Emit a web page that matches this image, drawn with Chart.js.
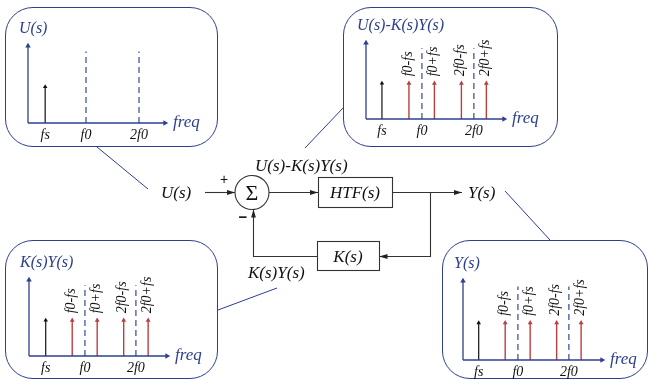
<!DOCTYPE html>
<html>
<head>
<meta charset="utf-8">
<script src="https://cdn.jsdelivr.net/npm/chart.js@4.4.1/dist/chart.umd.min.js"></script>
<style>
  html, body { margin: 0; padding: 0; background: #fff; }
  #stage { position: relative; width: 650px; height: 381px; overflow: hidden; }
  .box { position: absolute; box-sizing: border-box; border: 1.3px solid #2d3f8e; border-radius: 28px; }
  .plot { position: absolute; }
  svg { position: absolute; left: 0; top: 0; }
  svg text { font-family: 'Liberation Serif', serif; font-style: italic; font-size: 17px; fill: #111; }
</style>
</head>
<body>
<div id="stage"></div>
<script>
// frequencies in units of f0, heights relative to the y axis
const tickValues = [0.23, 1, 2];
const tickLabels = ['fs', 'f0', '2f0'];
const inputFreq = [0.23];
const inputAmp = [0.47];
const carrierFreq = [1, 2];
const carrierAmp = [0.93, 0.93];
const sideFreq = [0.75, 1.24, 1.76, 2.24];
const sideAmp = [0.47, 0.47, 0.47, 0.47];
const sideLabels = ['f0-fs', 'f0+fs', '2f0-fs', '2f0+fs'];
const panelTitles = ['U(s)', 'U(s)-K(s)Y(s)', 'K(s)Y(s)', 'Y(s)'];
const panelSidebands = [false, true, true, true];

const BLUE = '#2d3f8e';
const RED = '#b8403f';
const SERIF = '"Liberation Serif", serif';
const AXIS_H = 24;

// where each small spectrum sits on the page
const layout = [
  { box: [5, 7, 213, 140],   ox: 28,  oy: 123, top: 46,  right: 165, min: -0.094, max: 2.49 },
  { box: [343, 7, 215, 140], ox: 366, oy: 119, top: 43,  right: 504, min: -0.077, max: 2.58 },
  { box: [5, 240, 213, 139], ox: 29,  oy: 356, top: 280, right: 167, min: -0.098, max: 2.61 },
  { box: [442, 240, 206, 139], ox: 463, oy: 360, top: 281, right: 602, min: -0.078, max: 2.65 }
];

function stem(x0, y0, x1, y1, color, width, head, opts) {
  return Object.assign({
    data: [{ x: x0, y: y0 }, { x: x1, y: y1 }],
    showLine: true,
    borderColor: color,
    borderWidth: width,
    pointStyle: 'triangle',
    pointRadius: c => (head && c.dataIndex === 1) ? head : 0,
    pointHoverRadius: 0,
    pointBackgroundColor: color,
    pointBorderColor: color,
    pointBorderWidth: 0,
    clip: false
  }, opts || {});
}

const spectrumText = {
  id: 'spectrumText',
  afterDatasetsDraw(chart, args, opts) {
    const { ctx, chartArea: a, scales: { x, y } } = chart;
    ctx.save();
    ctx.textBaseline = 'middle';
    ctx.textAlign = 'left';
    ctx.fillStyle = BLUE;
    ctx.font = 'italic 16px ' + SERIF;
    ctx.fillText(opts.title, a.left - 9, a.top - 17);
    ctx.font = 'italic 17px ' + SERIF;
    ctx.fillText('freq', a.right + 8, a.bottom);
    if (opts.sidebands) {
      ctx.fillStyle = '#111';
      ctx.font = 'italic 14px ' + SERIF;
      sideFreq.forEach((f, i) => {
        ctx.save();
        ctx.translate(x.getPixelForValue(f) - 1, y.getPixelForValue(sideAmp[i]) - 7);
        ctx.rotate(-Math.PI / 2);
        ctx.fillText(sideLabels[i], 0, 0);
        ctx.restore();
      });
    }
    ctx.restore();
  }
};

const stage = document.getElementById('stage');

layout.forEach((p, k) => {
  const [bx, by, bw, bh] = p.box;
  const frame = document.createElement('div');
  frame.className = 'box';
  Object.assign(frame.style, { left: bx + 'px', top: by + 'px', width: bw + 'px', height: bh + 'px' });
  stage.appendChild(frame);

  // canvas a bit taller than the frame so the tick labels are never cut
  const wh = bh + 20;
  const wrap = document.createElement('div');
  wrap.className = 'plot';
  Object.assign(wrap.style, { left: bx + 'px', top: by + 'px', width: bw + 'px', height: wh + 'px' });
  const cv = document.createElement('canvas');
  wrap.appendChild(cv);
  stage.appendChild(wrap);

  const ds = [
    stem(p.min, 0, p.max, 0, BLUE, 1.3, 3.2, { pointRotation: 90 }),
    stem(p.min, 0, p.min, 1, BLUE, 1.3, 3.2)
  ];
  carrierFreq.forEach((f, i) => ds.push(stem(f, 0, f, carrierAmp[i], '#34489a', 1.2, 0, { borderDash: [6, 4] })));
  inputFreq.forEach((f, i) => ds.push(stem(f, 0, f, inputAmp[i], '#111', 1.2, 2.6)));
  if (panelSidebands[k]) {
    sideFreq.forEach((f, i) => ds.push(stem(f, 0, f, sideAmp[i], RED, 1.4, 2.8)));
  }

  new Chart(cv, {
    type: 'scatter',
    data: { datasets: ds },
    options: {
      responsive: true,
      maintainAspectRatio: false,
      animation: false,
      events: [],
      layout: {
        padding: {
          left: p.ox - bx,
          right: bw - (p.right - bx),
          top: p.top - by,
          bottom: wh - (p.oy - by) - AXIS_H
        }
      },
      plugins: {
        legend: { display: false },
        tooltip: { enabled: false },
        spectrumText: { title: panelTitles[k], sidebands: panelSidebands[k] }
      },
      scales: {
        x: {
          type: 'linear',
          min: p.min,
          max: p.max,
          afterBuildTicks: s => { s.ticks = tickValues.map(v => ({ value: v })); },
          afterFit: s => { s.height = AXIS_H; },
          grid: { display: false, drawTicks: false },
          border: { display: false },
          ticks: {
            autoSkip: false,
            maxRotation: 0,
            padding: 4,
            color: '#111',
            font: { family: SERIF, style: 'italic', size: 14 },
            callback: (v, i) => tickLabels[i]
          }
        },
        y: { display: false, min: 0, max: 1 }
      }
    },
    plugins: [spectrumText]
  });
});

// block diagram
stage.insertAdjacentHTML('beforeend', `
<svg width="650" height="381">
  <defs>
    <marker id="ah" viewBox="0 0 8 6" markerWidth="8" markerHeight="6" refX="8" refY="3" orient="auto" markerUnits="userSpaceOnUse">
      <path d="M0,0.6 L8,3 L0,5.4z" fill="#222"/>
    </marker>
  </defs>
  <g stroke="#333" stroke-width="1.1" fill="none">
    <line x1="205" y1="192.5" x2="235" y2="192.5" marker-end="url(#ah)"/>
    <circle cx="252" cy="192.5" r="17"/>
    <line x1="269" y1="192.5" x2="318" y2="192.5" marker-end="url(#ah)"/>
    <rect x="318.5" y="177.5" width="74" height="30"/>
    <line x1="392.5" y1="192.5" x2="462" y2="192.5" marker-end="url(#ah)"/>
    <polyline points="430.5,192.5 430.5,256.5 379.5,256.5" marker-end="url(#ah)"/>
    <rect x="317.5" y="241.5" width="62" height="29"/>
    <polyline points="317.5,256.5 253.5,256.5 253.5,209.5" marker-end="url(#ah)"/>
  </g>
  <g stroke="${BLUE}" stroke-width="1">
    <line x1="97" y1="147" x2="148" y2="189"/>
    <line x1="343" y1="108" x2="305" y2="148"/>
    <line x1="218" y1="310" x2="277" y2="288"/>
    <line x1="505" y1="191" x2="550" y2="240"/>
  </g>
  <text x="161" y="198">U(s)</text>
  <text x="255" y="171">U(s)-K(s)Y(s)</text>
  <text x="355" y="198" text-anchor="middle">HTF(s)</text>
  <text x="468" y="198">Y(s)</text>
  <text x="348" y="262" text-anchor="middle">K(s)</text>
  <text x="248" y="278">K(s)Y(s)</text>
  <text x="252" y="200" text-anchor="middle" style="font-style:normal;font-size:22px">Σ</text>
  <text x="224" y="184" text-anchor="middle" style="font-style:normal;font-size:14px;font-family:'Liberation Sans',sans-serif">+</text>
  <text x="243" y="222" text-anchor="middle" style="font-style:normal;font-weight:bold;font-size:15px;font-family:'Liberation Sans',sans-serif">−</text>
</svg>`);
</script>
</body>
</html>
